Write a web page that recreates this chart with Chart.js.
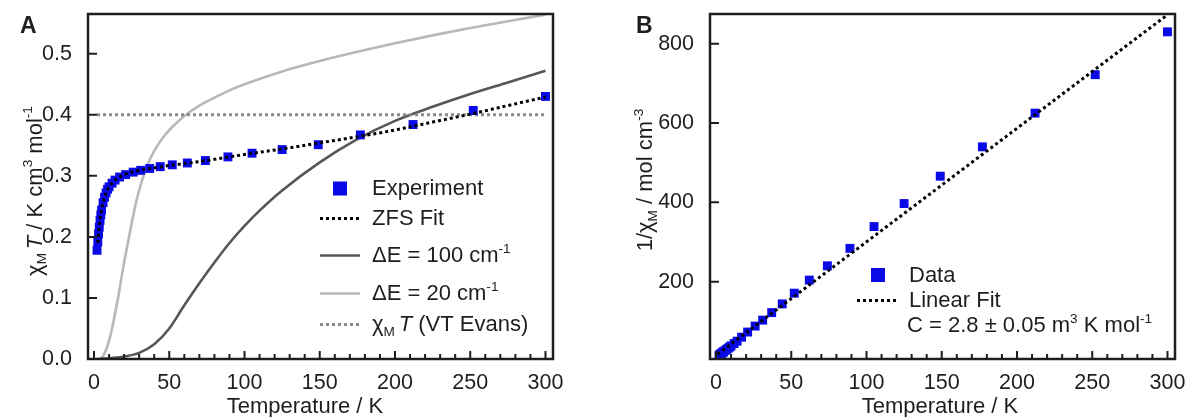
<!DOCTYPE html>
<html>
<head>
<meta charset="utf-8">
<script src="https://cdn.jsdelivr.net/npm/chart.js@4"></script>
<style>
  body { margin: 0; background: #fff; }
  #wrap { position: relative; width: 1188px; height: 417px; }
  canvas { position: absolute; top: 0; }
  #chartA { left: 0; }
  #chartB { left: 594px; }
</style>
</head>
<body>
<div id="wrap">
  <canvas id="chartA" width="594" height="417"></canvas>
  <canvas id="chartB" width="594" height="417"></canvas>
</div>
<script>
// ---- data ----
const tempExp = [2, 2.5, 3, 3.5, 4, 4.5, 5, 6, 7, 8, 9, 10, 12, 14, 17, 21, 26, 31, 37, 44, 52, 62, 74, 89, 105, 125, 149, 177, 212, 252, 300];
const chiTExp = [0.178, 0.192, 0.205, 0.216, 0.227, 0.236, 0.244, 0.256, 0.265, 0.272, 0.278, 0.282, 0.288, 0.293, 0.298, 0.302, 0.306, 0.309, 0.312, 0.315, 0.318, 0.321, 0.325, 0.331, 0.337, 0.343, 0.351, 0.367, 0.384, 0.407, 0.430];
const invChiExp = [14, 16, 17, 19, 20, 22, 23, 26, 29, 32, 35, 38, 44, 50, 60, 73, 88, 103, 122, 144, 171, 204, 240, 284, 339, 397, 466, 540, 625, 722, 830];

const tempFit = [2.5, 3, 4, 5, 6, 8, 10, 12, 15, 20, 25, 30, 40, 50, 60, 80, 100, 125, 150, 175, 200, 225, 250, 275, 300];
const chiTFit = [0.19, 0.205, 0.229, 0.245, 0.256, 0.272, 0.282, 0.288, 0.295, 0.302, 0.306, 0.309, 0.313, 0.317, 0.320, 0.327, 0.335, 0.344, 0.354, 0.364, 0.375, 0.388, 0.401, 0.415, 0.429];

const tempDE100 = [3, 10, 20, 30, 40, 50, 60, 70, 80, 90, 100, 110, 125, 150, 175, 200, 225, 250, 275, 300];
const chiTDE100 = [0, 0.001, 0.004, 0.01, 0.024, 0.05, 0.088, 0.124, 0.158, 0.19, 0.218, 0.243, 0.276, 0.322, 0.36, 0.39, 0.413, 0.434, 0.453, 0.472];

const tempDE20 = [4, 6, 8, 10, 12, 14, 16, 18, 20, 22, 25, 28, 31, 35, 40, 45, 50, 55, 60, 70, 80, 90, 100, 125, 150, 175, 200, 225, 250, 275, 300];
const chiTDE20 = [0, 0.005, 0.015, 0.03, 0.05, 0.075, 0.1, 0.13, 0.158, 0.184, 0.222, 0.257, 0.285, 0.315, 0.341, 0.36, 0.375, 0.387, 0.398, 0.415, 0.428, 0.44, 0.45, 0.471, 0.488, 0.503, 0.517, 0.53, 0.542, 0.553, 0.564];

const tempEvans = [2, 300];
const chiTEvans = [0.4, 0.4];

const tempLin = [1, 300];
const invChiLin = [17, 873];

const xTicks = [0, 50, 100, 150, 200, 250, 300];
const yTicksA = [0, 0.1, 0.2, 0.3, 0.4, 0.5];
const yTicksB = [200, 400, 600, 800];

// ---- helpers ----
const FONT = '"Liberation Sans", Arial, Helvetica, sans-serif';
const INK = '#1e1e1e';

function pts(xs, ys) {
  return xs.map((x, i) => ({ x: x, y: ys[i] }));
}

function fontFor(kind, size) {
  const small = kind === 'sub' || kind === 'sup';
  return (kind === 'i' ? 'italic ' : '') + (small ? size * 0.62 : size) + 'px ' + FONT;
}

// parts: [[text, kind]], kind = 'n' | 'i' | 'sub' | 'sup'
function drawRich(ctx, parts, x, y, size, align) {
  let w = 0;
  for (const [t, k] of parts) {
    ctx.font = fontFor(k, size);
    w += ctx.measureText(t).width;
  }
  let cx = align === 'center' ? x - w / 2 : x;
  ctx.textAlign = 'left';
  ctx.textBaseline = 'alphabetic';
  for (const [t, k] of parts) {
    ctx.font = fontFor(k, size);
    const dy = k === 'sub' ? size * 0.22 : (k === 'sup' ? -size * 0.42 : 0);
    ctx.fillText(t, cx, y + dy);
    cx += ctx.measureText(t).width;
  }
}

function drawLegendKey(ctx, ds, x0, x1, y) {
  ctx.save();
  if (ds.showLine) {
    ctx.strokeStyle = ds.borderColor;
    ctx.lineWidth = ds.borderWidth;
    ctx.setLineDash(ds.borderDash || []);
    ctx.beginPath();
    ctx.moveTo(x0, y);
    ctx.lineTo(x1, y);
    ctx.stroke();
  } else {
    const s = 14;
    ctx.fillStyle = ds.backgroundColor;
    ctx.fillRect((x0 + x1) / 2 - s / 2, y - s / 2, s, s);
  }
  ctx.restore();
}

// box round the plot and inward ticks
const frame = {
  id: 'frame',
  afterDatasetsDraw(chart) {
    const { ctx, chartArea: a, scales } = chart;
    const yVals = chart.options.plugins.frame.yTicks;
    ctx.save();
    ctx.strokeStyle = INK;
    ctx.lineWidth = 2;
    ctx.beginPath();
    for (let t = 0; t <= 300; t += 10) {
      const px = scales.x.getPixelForValue(t);
      const len = t % 50 === 0 ? 8 : 5;
      ctx.moveTo(px, a.bottom);
      ctx.lineTo(px, a.bottom - len);
    }
    for (const v of yVals) {
      const py = scales.y.getPixelForValue(v);
      ctx.moveTo(a.left, py);
      ctx.lineTo(a.left + 9, py);
    }
    ctx.stroke();
    ctx.lineWidth = 2.5;
    ctx.strokeRect(a.left, a.top, a.right - a.left, a.bottom - a.top);
    ctx.restore();
  }
};

function baseOptions(xMin, xMax, yMin, yMax, yTicks, yFmt, padRight, yWidth) {
  const tickFont = { family: FONT, size: 21.5 };
  return {
    animation: false,
    responsive: false,
    layout: { padding: { left: 0, top: 14, right: padRight, bottom: 0 } },
    plugins: {
      legend: { display: false },
      tooltip: { enabled: false },
      frame: { yTicks: yTicks }
    },
    scales: {
      x: {
        type: 'linear',
        min: xMin, max: xMax,
        afterBuildTicks: s => { s.ticks = xTicks.map(v => ({ value: v })); },
        afterFit: s => { s.height = 58; s.paddingLeft = 0; s.paddingRight = 0; },
        grid: { display: false },
        border: { display: false },
        ticks: { padding: 3, font: tickFont, color: INK, maxRotation: 0, autoSkip: false }
      },
      y: {
        type: 'linear',
        min: yMin, max: yMax,
        afterBuildTicks: s => { s.ticks = yTicks.map(v => ({ value: v })); },
        afterFit: s => { s.width = yWidth; s.paddingTop = 0; s.paddingBottom = 0; },
        grid: { display: false },
        border: { display: false },
        ticks: { padding: 8, font: tickFont, color: INK, autoSkip: false, callback: yFmt }
      }
    }
  };
}

// ---- panel A ----
const decorA = {
  id: 'decorA',
  afterDraw(chart) {
    const { ctx, chartArea: a } = chart;
    const ds = chart.data.datasets;
    ctx.save();
    ctx.fillStyle = INK;
    ctx.font = 'bold 23px ' + FONT;
    ctx.textAlign = 'left';
    ctx.fillText('A', a.left - 68, 33);
    drawRich(ctx, [['Temperature / K', 'n']], a.left + 217, 413, 22, 'center');
    ctx.save();
    ctx.translate(41.5, a.top + 177);
    ctx.rotate(-Math.PI / 2);
    drawRich(ctx, [['χ', 'n'], ['M', 'sub'], [' ', 'sub'], ['T', 'i'], [' / K cm', 'n'], ['3', 'sup'], [' mol', 'n'], ['-1', 'sup']], 0, 0, 22, 'center');
    ctx.restore();

    const kx0 = a.left + 232, kx1 = a.left + 272, tx = a.left + 284;
    const rows = [
      [1, [['Experiment', 'n']], 195],
      [0, [['ZFS Fit', 'n']], 225],
      [3, [['ΔE = 100 cm', 'n'], ['-1', 'sup']], 262],
      [4, [['ΔE = 20 cm', 'n'], ['-1', 'sup']], 300],
      [2, [['χ', 'n'], ['M', 'sub'], [' ', 'sub'], ['T', 'i'], [' (VT Evans)', 'n']], 331]
    ];
    for (const [i, parts, by] of rows) {
      drawLegendKey(ctx, ds[i], kx0, kx1, by - 6.5);
      ctx.fillStyle = INK;
      drawRich(ctx, parts, tx, by, 22, 'left');
    }
    ctx.restore();
  }
};

new Chart(document.getElementById('chartA'), {
  type: 'scatter',
  data: {
    datasets: [
      { label: 'ZFS Fit', data: pts(tempFit, chiTFit), showLine: true, borderColor: '#000', borderWidth: 3, borderDash: [3, 3],
        pointRadius: 0, cubicInterpolationMode: 'monotone', order: 0 },
      { label: 'Experiment', data: pts(tempExp, chiTExp), pointStyle: 'rect', pointRadius: 6.3, backgroundColor: '#0a0ae6',
        borderWidth: 0, order: 1, clip: false },
      { label: 'VT Evans', data: pts(tempEvans, chiTEvans), showLine: true, borderColor: '#8a8a8a', borderWidth: 3, borderDash: [3, 3],
        pointRadius: 0, order: 2 },
      { label: 'dE 100', data: pts(tempDE100, chiTDE100), showLine: true, borderColor: '#565656', borderWidth: 2.6,
        pointRadius: 0, cubicInterpolationMode: 'monotone', order: 3 },
      { label: 'dE 20', data: pts(tempDE20, chiTDE20), showLine: true, borderColor: '#b8b8b8', borderWidth: 2.6,
        pointRadius: 0, cubicInterpolationMode: 'monotone', order: 4 }
    ]
  },
  options: baseOptions(-4, 305, 0, 0.565, yTicksA, v => v.toFixed(1), 41, 88),
  plugins: [frame, decorA]
});

// ---- panel B ----
const decorB = {
  id: 'decorB',
  afterDraw(chart) {
    const { ctx, chartArea: a } = chart;
    const ds = chart.data.datasets;
    ctx.save();
    ctx.fillStyle = INK;
    ctx.font = 'bold 23px ' + FONT;
    ctx.textAlign = 'left';
    ctx.fillText('B', a.left - 74, 33);
    drawRich(ctx, [['Temperature / K', 'n']], a.left + 230, 413, 22, 'center');
    ctx.save();
    ctx.translate(58, a.top + 166);
    ctx.rotate(-Math.PI / 2);
    drawRich(ctx, [['1/χ', 'n'], ['M', 'sub'], [' / mol cm', 'n'], ['-3', 'sup']], 0, 0, 22, 'center');
    ctx.restore();

    drawLegendKey(ctx, ds[1], a.left + 158, a.left + 178, 275);
    drawLegendKey(ctx, ds[0], a.left + 147, a.left + 188, 300.5);
    ctx.fillStyle = INK;
    drawRich(ctx, [['Data', 'n']], a.left + 199, 282, 22, 'left');
    drawRich(ctx, [['Linear Fit', 'n']], a.left + 199, 307, 22, 'left');
    drawRich(ctx, [['C = 2.8 ± 0.05 m', 'n'], ['3', 'sup'], [' K mol', 'n'], ['-1', 'sup']], a.left + 197, 332, 22, 'left');
    ctx.restore();
  }
};

new Chart(document.getElementById('chartB'), {
  type: 'scatter',
  data: {
    datasets: [
      { label: 'Linear Fit', data: pts(tempLin, invChiLin), showLine: true, borderColor: '#000', borderWidth: 3, borderDash: [3, 3],
        pointRadius: 0, order: 0 },
      { label: 'Data', data: pts(tempExp, invChiExp), pointStyle: 'rect', pointRadius: 6.3, backgroundColor: '#0a0ae6',
        borderWidth: 0, order: 1, clip: false }
    ]
  },
  options: baseOptions(-4, 305, 5, 875, yTicksB, v => String(v), 13, 116),
  plugins: [frame, decorB]
});
</script>
</body>
</html>
